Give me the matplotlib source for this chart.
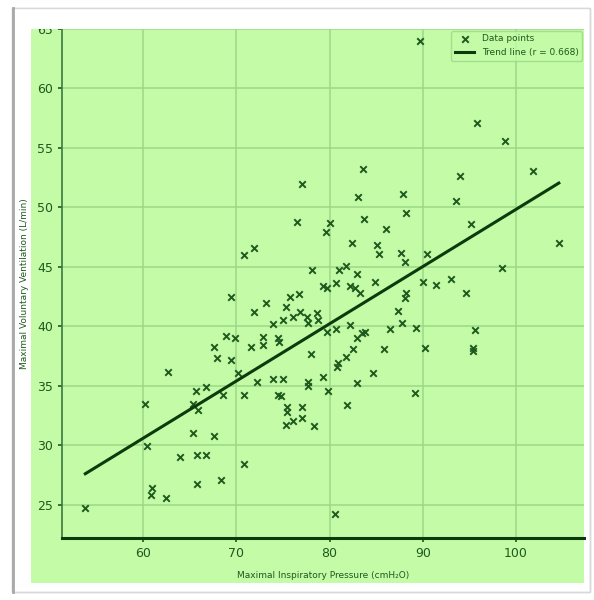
import numpy as np
import matplotlib
matplotlib.use('Agg')
import matplotlib.pyplot as plt
from matplotlib.patches import Rectangle
from matplotlib.lines import Line2D

# ── Data ─────────────────────────────────────────────────────────────────────
mip = [53.8, 60.2, 60.4, 61.0, 60.9, 62.5, 62.7, 64.0, 65.4, 65.4,
       65.9, 65.7, 66.8, 65.8, 66.8, 65.8, 67.6, 68.4, 67.6, 67.9,
       69.4, 68.6, 68.9, 69.9, 69.4, 70.2, 70.8, 70.8, 70.8, 71.9,
       71.6, 72.9, 72.9, 71.9, 73.2, 72.2, 73.9, 75.0, 74.5, 74.8,
       73.9, 74.5, 74.6, 75.0, 75.3, 75.8, 76.7, 76.1, 76.8, 77.6,
       77.7, 78.7, 78.8, 75.4, 75.4, 75.3, 76.1, 77.1, 77.1, 78.3,
       77.7, 77.7, 78.0, 79.3, 79.8, 81.9, 82.9, 80.6, 78.1, 79.3,
       79.7, 80.7, 81.0, 81.8, 82.2, 82.7, 83.0, 83.3, 84.9, 79.7,
       80.7, 82.2, 82.9, 83.5, 83.8, 82.5, 81.8, 80.9, 80.8, 84.7,
       85.8, 86.5, 87.3, 87.8, 89.3, 88.1, 88.2, 88.1, 89.2, 90.2,
       90.0, 91.4, 93.0, 94.6, 95.6, 95.4, 95.4, 98.5, 90.5, 87.7,
       85.1, 85.3, 82.4, 86.1, 83.7, 79.6, 80.1, 76.5, 88.2, 87.9,
       83.1, 77.1, 83.6, 93.6, 95.2, 94.0, 101.8, 98.8, 95.8, 104.6,
       89.7]
resp = [24.7, 33.5, 29.9, 26.4, 25.8, 25.6, 36.2, 29.0, 31.0, 33.5,
        33.0, 34.6, 34.9, 29.2, 29.2, 26.7, 30.8, 27.1, 38.3, 37.3,
        37.2, 34.2, 39.2, 39.0, 42.5, 36.1, 28.4, 34.2, 46.0, 46.6,
        38.3, 38.4, 39.1, 41.2, 42.0, 35.3, 35.6, 35.6, 34.2, 34.1,
        40.2, 39.0, 38.7, 40.5, 41.6, 42.5, 42.7, 40.8, 41.2, 40.8,
        40.3, 41.1, 40.5, 33.2, 32.8, 31.7, 32.0, 33.2, 32.3, 31.6,
        35.3, 35.0, 37.7, 35.7, 34.6, 33.4, 35.2, 24.2, 44.7, 43.4,
        43.2, 43.6, 44.7, 45.1, 43.4, 43.2, 44.4, 42.8, 43.7, 39.5,
        39.8, 40.1, 39.0, 39.4, 39.5, 38.1, 37.4, 36.9, 36.6, 36.1,
        38.1, 39.8, 41.3, 40.3, 39.9, 45.4, 42.8, 42.4, 34.4, 38.2,
        43.7, 43.5, 44.0, 42.8, 39.7, 38.2, 37.9, 44.9, 46.1, 46.2,
        46.8, 46.1, 47.0, 48.2, 49.0, 47.9, 48.7, 48.8, 49.5, 51.1,
        50.9, 52.0, 53.2, 50.5, 48.6, 52.6, 53.1, 55.6, 57.1, 47.0,
        64.0]

r_value = 0.668
x_label = "Maximal Inspiratory Pressure (cmH\u2082O)"
y_label = "Maximal Voluntary Ventilation (L/min)"

# ── Colours ──────────────────────────────────────────────────────────────────
BG    = '#c3fba6'
GRID  = '#9bd886'
DARK  = '#1e5a1e'
LINE  = '#0d3a0d'

fig = plt.figure(figsize=(5.94, 6.0), dpi=100)
fig.patch.set_facecolor('white')

# outer frame + green panel (behind the axes)
fig.patches.append(Rectangle((12/594, 8/600), 578/594, 584/600, transform=fig.transFigure,
                             facecolor='white', edgecolor='#d8d8d8', linewidth=1.0, zorder=-10))
fig.patches.append(Rectangle((31/594, 17/600), 553/594, 554/600, transform=fig.transFigure,
                             facecolor=BG, edgecolor='none', zorder=-8))

ax = fig.add_axes([62/594, 62/600, 522/594, 509/600])
ax.set_facecolor(BG)

ax.scatter(mip, resp, marker='x', s=22, color=DARK, linewidths=1.4, label='Data points', zorder=3)

# trend line (least squares)
slope, intercept = np.polyfit(mip, resp, 1)
xs = np.array([min(mip), max(mip)])
ax.plot(xs, slope * xs + intercept, color=LINE, linewidth=2.2,
        label=f'Trend line (r = {r_value:.3f})', zorder=4)

ax.set_xlim(51.3, 107.3)
ax.set_ylim(22.2, 65.0)
ax.set_xticks([60, 70, 80, 90, 100])
ax.set_yticks([25, 30, 35, 40, 45, 50, 55, 60, 65])
ax.grid(True, color=GRID, linewidth=1.1)
ax.set_axisbelow(True)

for side in ['top', 'right']:
    ax.spines[side].set_visible(False)
ax.spines['left'].set_color('#3d7a3d')
ax.spines['left'].set_linewidth(1.2)
ax.spines['bottom'].set_color(LINE)
ax.spines['bottom'].set_linewidth(2.2)
ax.tick_params(colors=DARK, labelsize=9, length=3, width=1.2)

ax.set_xlabel(x_label, fontsize=6.5, color=DARK, labelpad=8)
ax.set_ylabel(y_label, fontsize=6.5, color=DARK, labelpad=6)

leg = ax.legend(loc='upper right', fontsize=6.5, frameon=True, borderaxespad=0.2,
                handlelength=2.2)
leg.get_frame().set_facecolor(BG)
leg.get_frame().set_edgecolor(GRID)
for t in leg.get_texts():
    t.set_color(DARK)

# the panel crops the top of the figure: white strip above it, then the frame edges
fig.patches.append(Rectangle((13/594, 571/600), 576/594, 20/600, transform=fig.transFigure,
                             facecolor='white', edgecolor='none', zorder=10))
fig.patches.append(Rectangle((12/594, 8/600), 578/594, 584/600, transform=fig.transFigure,
                             facecolor='none', edgecolor='#d8d8d8', linewidth=1.0, zorder=11))
fig.lines.append(Line2D([13/594, 13/594], [8/600, 592/600], transform=fig.transFigure,
                        color='#a8a8a8', linewidth=2.0, zorder=12))

fig.savefig('out.png', dpi=100)
